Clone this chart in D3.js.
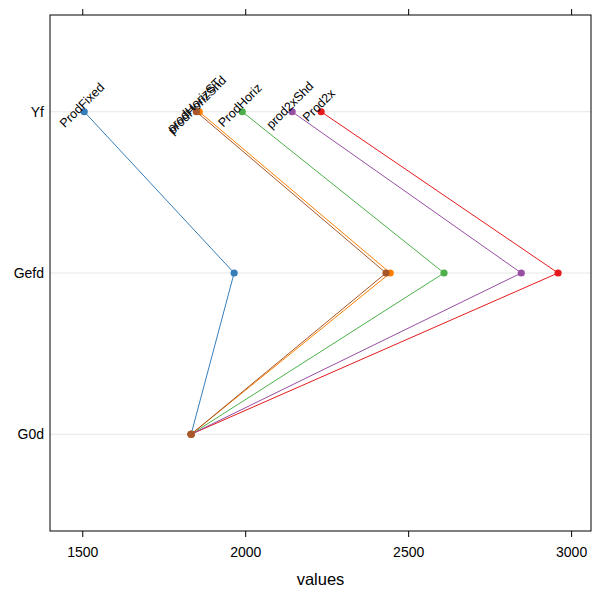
<!DOCTYPE html>
<html>
<head>
<meta charset="utf-8">
<script src="https://d3js.org/d3.v7.min.js"></script>
<style>
  body { margin: 0; background: #fff; }
  svg text { font-family: "Liberation Sans", Arial, sans-serif; fill: #000; }
</style>
</head>
<body>
<script>
  // categories top to bottom
  var stages = ["Yf", "Gefd", "G0d"];
  var series = ["Prod2x", "ProdFixed", "ProdHoriz", "prod2xShd", "prodHorizShd", "prodHorizST"];
  var colors = ["#E41A1C", "#377EB8", "#4DAF4A", "#984EA3", "#FF7F00", "#A65628"];
  // values per series, in the order of stages
  var prod2x = [2233, 2960, 1834];
  var prodFixed = [1506, 1966, 1834];
  var prodHoriz = [1991, 2610, 1834];
  var prod2xShd = [2144, 2847, 1834];
  var prodHorizShd = [1859, 2445, 1834];
  var prodHorizST = [1850, 2432, 1834];
  var xTicks = [1500, 2000, 2500, 3000];

  var allValues = [prod2x, prodFixed, prodHoriz, prod2xShd, prodHorizShd, prodHorizST];

  var W = 592, H = 596;
  var mLeft = 50, mRight = 591, mTop = 15, mBottom = 531;

  var svg = d3.select("body").append("svg")
    .attr("width", W).attr("height", H);

  var x = d3.scaleLinear().domain([1401, 3061]).range([mLeft, mRight]);
  var y = d3.scalePoint().domain(stages).range([mTop, mBottom]).padding(0.6);

  // grid lines
  svg.selectAll("line.grid").data(stages).enter().append("line")
    .attr("x1", mLeft).attr("x2", mRight)
    .attr("y1", function(d) { return y(d); })
    .attr("y2", function(d) { return y(d); })
    .attr("stroke", "#e6e6e6").attr("stroke-width", 1);

  // frame
  svg.append("rect")
    .attr("x", mLeft).attr("y", mTop)
    .attr("width", mRight - mLeft).attr("height", mBottom - mTop)
    .attr("fill", "none").attr("stroke", "#000").attr("stroke-width", 1);

  // bottom axis
  var bottomAxis = svg.append("g")
    .attr("transform", "translate(0," + mBottom + ")")
    .call(d3.axisBottom(x).tickValues(xTicks).tickSize(6).tickPadding(10).tickFormat(d3.format("d")));
  bottomAxis.select(".domain").remove();
  bottomAxis.selectAll("text").style("font-size", "14px")
    .style("font-family", "Liberation Sans, Arial, sans-serif");

  // top axis, ticks only
  var topAxis = svg.append("g")
    .attr("transform", "translate(0," + mTop + ")")
    .call(d3.axisTop(x).tickValues(xTicks).tickSize(6).tickFormat(""));
  topAxis.select(".domain").remove();

  // category labels
  svg.selectAll("text.cat").data(stages).enter().append("text")
    .attr("x", mLeft - 6)
    .attr("y", function(d) { return y(d); })
    .attr("dy", "0.35em")
    .attr("text-anchor", "end")
    .style("font-size", "14px")
    .text(function(d) { return d; });

  // axis title
  svg.append("text")
    .attr("x", (mLeft + mRight) / 2).attr("y", 585)
    .attr("text-anchor", "middle")
    .style("font-size", "16.5px")
    .text("values");

  var line = d3.line()
    .x(function(d) { return x(d.v); })
    .y(function(d) { return y(d.s); });

  series.forEach(function(name, i) {
    var pts = allValues[i].map(function(v, j) { return { s: stages[j], v: v }; });
    var g = svg.append("g");
    g.append("path")
      .datum(pts)
      .attr("d", line)
      .attr("fill", "none")
      .attr("stroke", colors[i])
      .attr("stroke-width", 1);
    g.selectAll("circle").data(pts).enter().append("circle")
      .attr("cx", function(d) { return x(d.v); })
      .attr("cy", function(d) { return y(d.s); })
      .attr("r", 3.6)
      .attr("fill", colors[i]);
    // label at top point
    var px = x(pts[0].v), py = y(pts[0].s);
    g.append("text")
      .attr("transform", "translate(" + px + "," + py + ") rotate(-45)")
      .attr("x", 3).attr("y", -2)
      .attr("text-anchor", "middle")
      .style("font-size", "12.5px")
      .text(name);
  });
</script>
</body>
</html>
